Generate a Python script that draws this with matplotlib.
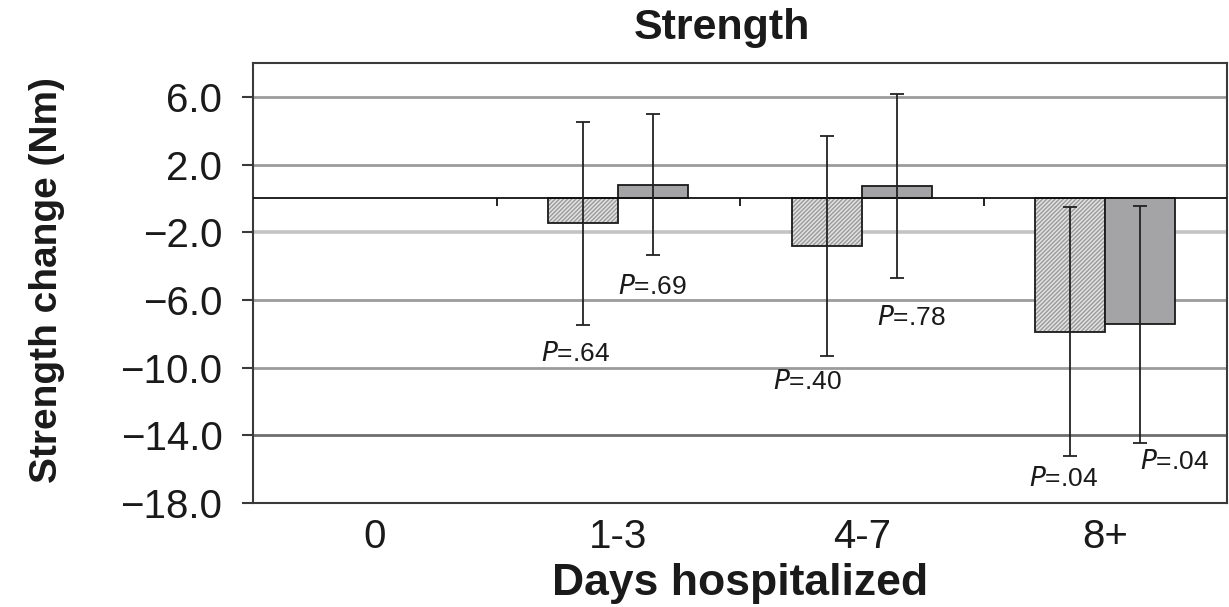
import matplotlib
matplotlib.use("Agg")
import matplotlib.pyplot as plt
from matplotlib.ticker import FuncFormatter

plt.rcParams['font.family'] = ['Liberation Sans', 'DejaVu Sans']
plt.rcParams['hatch.linewidth'] = 1.0

# data
categories = ["0", "1-3", "4-7", "8+"]
group_idx = [1, 2, 3]              # group "0" has no bars
hatched_mean = [-1.47, -2.83, -7.88]
hatched_err = [6.0, 6.5, 7.36]
solid_mean = [0.82, 0.73, -7.45]
solid_err = [4.18, 5.42, 7.03]
hatched_p = ["=.64", "=.40", "=.04"]
solid_p = ["=.69", "=.78", "=.04"]
yticks = [6, 2, -2, -6, -10, -14, -18]

BAR_W = 0.287
# label nudges in pixels (dx, dy) below the error bar
hatched_off = [(-8, -29), (-19, -26), (-7, -23)]
solid_off = [(-1, -32), (15, -40), (34, -19)]

fig = plt.figure(figsize=(12.29, 6.07), dpi=100)
ax = fig.add_axes([0.2059, 0.1713, 0.7925, 0.7249])
ax.set_xlim(-0.5, 3.5)
ax.set_ylim(-18, 8)

# grid
ax.set_yticks(yticks)
ax.yaxis.grid(True, color="#9c9c9c", linewidth=2.0, zorder=0)
ax.set_axisbelow(True)
for val, gl in zip(yticks, ax.get_ygridlines()):
    if val == -2:
        gl.set_color("#c4c4c4")
        gl.set_linewidth(2.6)
    elif val == -14:
        gl.set_color("#6e6e6e")

ax.yaxis.set_major_formatter(FuncFormatter(lambda v, p: f"{v:.1f}".replace("-", "\u2212")))
ax.tick_params(axis="y", length=8, width=1.5, color="#3a3a3a", pad=14,
               labelsize=29, labelcolor="#1a1a1a")
ax.set_xticks(range(len(categories)))
ax.set_xticklabels(categories)
ax.tick_params(axis="x", length=0, pad=11, labelsize=29, labelcolor="#1a1a1a")

for s in ax.spines.values():
    s.set_color("#3a3a3a")
    s.set_linewidth(1.5)

hx = [i - BAR_W / 2 for i in group_idx]
sx = [i + BAR_W / 2 for i in group_idx]

# hatched bars (fill + hatch, then black outline)
ax.bar(hx, hatched_mean, BAR_W, color="#e2e2e2", edgecolor="#9a9a9a",
       hatch="////////", linewidth=0, zorder=2)
ax.bar(hx, hatched_mean, BAR_W, fill=False, edgecolor="#1a1a1a", linewidth=1.3, zorder=3)
ax.bar(sx, solid_mean, BAR_W, color="#a4a4a6", edgecolor="#1a1a1a", linewidth=1.3, zorder=3)

# zero line and category boundary ticks
ax.axhline(0, color="#111111", linewidth=1.3, zorder=4)
ax.vlines([0.5, 1.5, 2.5], 0, -0.47, color="#111111", linewidth=1.3, zorder=4)

ax.errorbar(hx, hatched_mean, yerr=hatched_err, fmt="none", ecolor="#222222",
            elinewidth=1.3, capsize=4.7, capthick=1.3, zorder=5)
ax.errorbar(sx, solid_mean, yerr=solid_err, fmt="none", ecolor="#222222",
            elinewidth=1.3, capsize=4.7, capthick=1.3, zorder=5)

for xs, means, errs, labels, offs in [(hx, hatched_mean, hatched_err, hatched_p, hatched_off),
                                       (sx, solid_mean, solid_err, solid_p, solid_off)]:
    for x, m, e, lab, (dx, dy) in zip(xs, means, errs, labels, offs):
        ax.annotate(r"$\it{P}$" + lab, (x, m - e), xytext=(dx * 0.72, dy * 0.72),
                    textcoords="offset points", ha="center", va="center",
                    fontsize=19, color="#1a1a1a", zorder=6)

fig.text(722 / 1229, 1 - 28 / 607, "Strength", ha="center", va="center",
         fontsize=31, fontweight="bold", color="#1a1a1a")
fig.text(740 / 1229, 1 - 583 / 607, "Days hospitalized", ha="center", va="center",
         fontsize=32, fontweight="bold", color="#1a1a1a")
fig.text(47 / 1229, 1 - 280 / 607, "Strength change (Nm)", ha="center", va="center",
         rotation=90, fontsize=28, fontweight="bold", color="#1a1a1a")

fig.savefig("out.png", dpi=100)
